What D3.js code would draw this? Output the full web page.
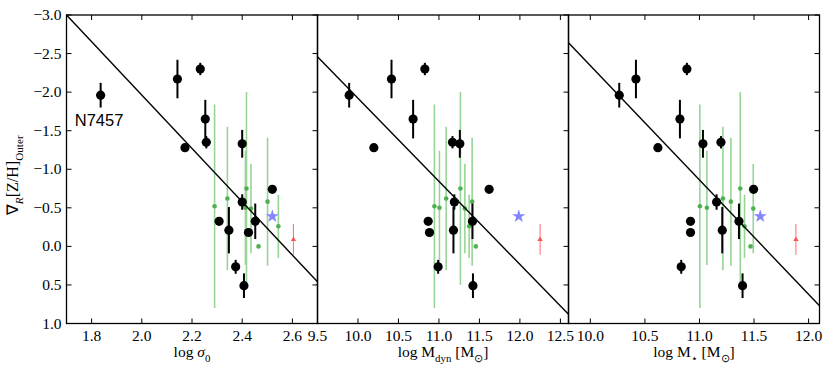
<!DOCTYPE html>
<html>
<head>
<meta charset="utf-8">
<script src="https://cdn.jsdelivr.net/npm/d3@7"></script>
<style>
	body { margin: 0; background: #fff; }
	svg text { font-family: "Liberation Serif", serif; fill: #000; }
</style>
</head>
<body>
<svg id="chart" width="830" height="373"></svg>
<script>

// black points (galaxies): x in each panel, outer gradient and its error
var sigma0   = [1.836, 2.142, 2.233, 2.172, 2.253, 2.257, 2.400, 2.520, 2.400, 2.308, 2.347, 2.452, 2.425, 2.374, 2.407];
var logMdyn  = [9.891, 10.414, 10.826, 10.196, 10.681, 11.167, 11.258, 11.620, 11.190, 10.867, 11.179, 11.414, 10.883, 10.990, 11.420];
var logMstar = [10.265, 10.418, 10.885, 10.619, 10.821, 11.197, 11.032, 11.496, 11.157, 10.918, 11.209, 11.362, 10.918, 10.833, 11.395];
var gradOuter = [-1.96, -2.17, -2.30, -1.28, -1.65, -1.35, -1.33, -0.74, -0.575, -0.325, -0.21, -0.325, -0.18, 0.265, 0.51];
var gradErr   = [0.16, 0.25, 0.08, 0.03, 0.25, 0.08, 0.18, 0.02, 0.10, 0.02, 0.30, 0.23, 0.02, 0.09, 0.16];

// green comparison sample
var gSigma0   = [2.290, 2.413, 2.341, 2.501, 2.417, 2.544, 2.465, 2.435];
var gLogMdyn  = [10.944, 11.006, 11.089, 11.410, 11.265, 11.373, 11.455, 11.320];
var gLogMstar = [11.004, 11.068, 11.215, 11.288, 11.374, 11.413, 11.468, 11.493];
var gGrad     = [-0.52, -0.50, -0.62, -0.58, -0.75, -0.26, 0.00, -0.49];
var gErr      = [1.32, 0.74, 0.93, 0.83, 1.25, 0.41, 0.00, 0.58];

// single objects: blue star and red triangle
var starX = [2.52, 11.986, 11.557];
var starGrad = -0.39;
var redX = [2.604, 12.249, 11.884];
var redGrad = -0.09;
var redErr = 0.20;

// fitted relations, endpoints in data units
var fitX = [[1.7, 2.7], [9.5, 12.6], [9.8, 12.1]];
var fitY = [[-3.0, 0.46], [-2.46, 0.88], [-2.64, 0.77]];

var xDomains = [[1.7, 2.7], [9.5, 12.6], [9.8, 12.1]];
var xTicks = [[1.8, 2.0, 2.2, 2.4, 2.6], [9.5, 10.0, 10.5, 11.0, 11.5, 12.0, 12.5], [10.0, 10.5, 11.0, 11.5, 12.0]];
var yTicks = [-3.0, -2.5, -2.0, -1.5, -1.0, -0.5, 0.0, 0.5, 1.0];

var xLabels = [
	[{t: "log "}, {t: "σ", it: true}, {t: "0", sub: true}],
	[{t: "log M"}, {t: "dyn", sub: true}, {t: " [M"}, {t: "⊙", sub: true}, {t: "]"}],
	[{t: "log M"}, {t: "⋆", sub: true}, {t: " [M"}, {t: "⊙", sub: true}, {t: "]"}]
];
var yLabel = [{t: "∇"}, {t: "R", sub: true, it: true}, {t: "[Z/H]"}, {t: "Outer", sub: true}];

var svg = d3.select("#chart");

const margin = { top: 15, left: 66.5 },
	pw = 251, ph = 308.5;

var y = d3.scaleLinear([-3, 1], [margin.top, margin.top + ph]);
var fmt = d3.format(".1f");

function richText(sel, parts, size)	{
	var last = 0;
	parts.forEach( p => {
		var shift = p.sub ? size * 0.3 : 0;
		sel.append("tspan")
			.attr("dy", shift - last)
			.attr("font-size", p.sub ? size * 0.7 : size)
			.attr("font-style", p.it ? "italic" : null)
			.text(p.t);
		last = shift;
	});
}

var xsets = [[sigma0, gSigma0], [logMdyn, gLogMdyn], [logMstar, gLogMstar]];

xDomains.forEach( (dom, i) => {

	var x0 = margin.left + i * pw;
	var x = d3.scaleLinear(dom, [x0, x0 + pw]);
	var g = svg.append("g");

	// ticks (inward, top and bottom)
	xTicks[i].forEach( t => {
		g.append("line").attr("x1", x(t)).attr("x2", x(t)).attr("y1", y(1)).attr("y2", y(1) - 5).attr("stroke", "#000");
		g.append("line").attr("x1", x(t)).attr("x2", x(t)).attr("y1", y(-3)).attr("y2", y(-3) + 5).attr("stroke", "#000");
		g.append("text").attr("x", x(t)).attr("y", y(1) + 17)
			.attr("text-anchor", "middle").attr("font-size", 15.5).text(fmt(t));
	});

	yTicks.forEach( t => {
		if(i === 0)	{
			g.append("line").attr("x1", x0).attr("x2", x0 + 5).attr("y1", y(t)).attr("y2", y(t)).attr("stroke", "#000");
			g.append("text").attr("x", x0 - 5).attr("y", y(t) + 5)
				.attr("text-anchor", "end").attr("font-size", 15.5).text(fmt(t));
		}
		g.append("line").attr("x1", x0 + pw).attr("x2", x0 + pw - 5).attr("y1", y(t)).attr("y2", y(t)).attr("stroke", "#000");
	});

	g.append("text").attr("x", x0 + pw / 2).attr("y", 357)
		.attr("text-anchor", "middle")
		.call(s => richText(s, xLabels[i], 15.5));

	var [ bx, gx ] = xsets[i];

	// green error bars and points
	g.selectAll(".gerr").data(gGrad).join("line")
		.attr("x1", (d, j) => x(gx[j])).attr("x2", (d, j) => x(gx[j]))
		.attr("y1", (d, j) => y(d - gErr[j])).attr("y2", (d, j) => y(d + gErr[j]))
		.attr("stroke", "#97d597").attr("stroke-width", 1.6);
	g.selectAll(".gpt").data(gGrad).join("circle")
		.attr("cx", (d, j) => x(gx[j])).attr("cy", d => y(d))
		.attr("r", 2.3).attr("fill", "#4fb04f");

	// fitted line
	g.append("path")
		.attr("fill", "none").attr("stroke", "#000").attr("stroke-width", 1.4)
		.attr("d", d3.line()([[x(fitX[i][0]), y(fitY[i][0])], [x(fitX[i][1]), y(fitY[i][1])]]));

	// black error bars and points
	g.selectAll(".berr").data(gradOuter).join("line")
		.attr("x1", (d, j) => x(bx[j])).attr("x2", (d, j) => x(bx[j]))
		.attr("y1", (d, j) => y(d - gradErr[j])).attr("y2", (d, j) => y(d + gradErr[j]))
		.attr("stroke", "#000").attr("stroke-width", 2);
	g.selectAll(".bpt").data(gradOuter).join("circle")
		.attr("cx", (d, j) => x(bx[j])).attr("cy", d => y(d))
		.attr("r", 4.6).attr("fill", "#000");

	// star and red triangle
	g.append("path")
		.attr("d", d3.symbol(d3.symbolStar, 55)())
		.attr("transform", `translate(${x(starX[i])},${y(starGrad)})`)
		.attr("fill", "#8585ff");
	g.append("line")
		.attr("x1", x(redX[i])).attr("x2", x(redX[i]))
		.attr("y1", y(redGrad - redErr)).attr("y2", y(redGrad + redErr))
		.attr("stroke", "#ff6a6a").attr("stroke-width", 1);
	g.append("path")
		.attr("d", d3.symbol(d3.symbolTriangle, 12)())
		.attr("transform", `translate(${x(redX[i])},${y(redGrad)})`)
		.attr("fill", "#ff5050");

	if(i === 0)
		g.append("text").attr("x", x(1.733)).attr("y", y(-1.565))
			.style("font-family", "'Liberation Sans', Arial, sans-serif").style("font-size", "16.5px")
			.text("N7457");

	// frame
	g.append("rect").attr("x", x0).attr("y", y(-3)).attr("width", pw).attr("height", ph)
		.attr("fill", "none").attr("stroke", "#000").attr("stroke-width", 1.3);

});

svg.append("text")
	.attr("transform", `translate(18,${margin.top + ph / 2 + 6}) rotate(-90)`)
	.attr("text-anchor", "middle")
	.call(s => richText(s, yLabel, 16));

</script>
</body>
</html>
